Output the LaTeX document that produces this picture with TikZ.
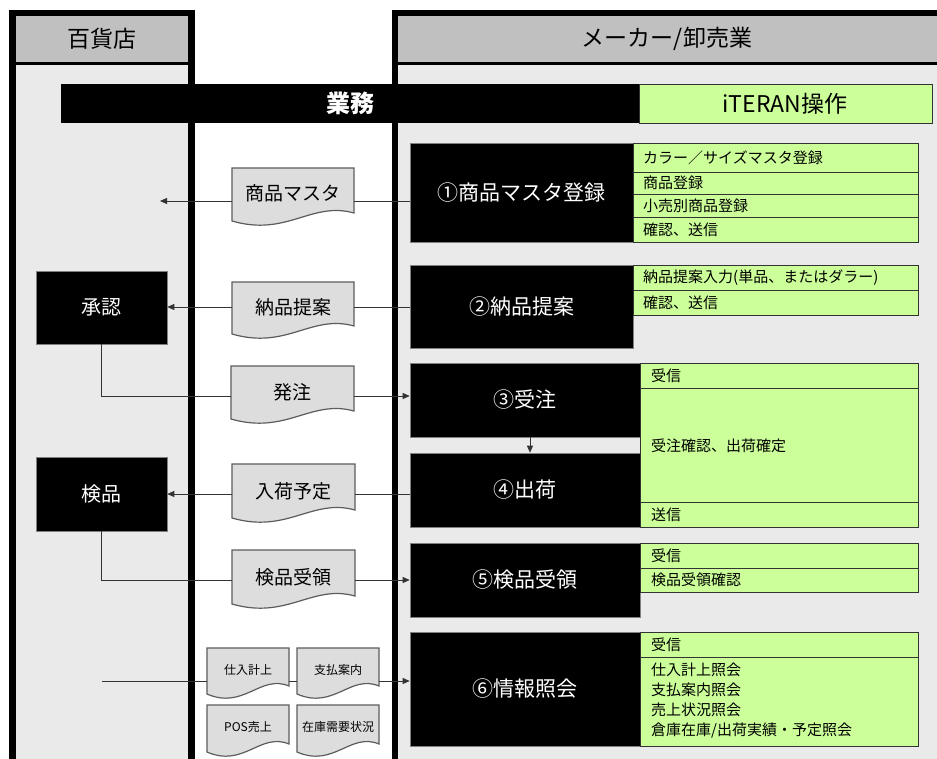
\documentclass[tikz,border=0pt]{standalone}
\usepackage{fontspec}
\setmainfont{Noto Sans CJK JP}
\usetikzlibrary{arrows.meta}
\definecolor{hdr}{HTML}{C0C0C0}
\definecolor{bodyg}{HTML}{EAEAEA}
\definecolor{docg}{HTML}{DDDDDD}
\definecolor{grn}{HTML}{CCFF99}
\definecolor{lin}{HTML}{333333}
\newcommand{\docshape}[4]{%
  \draw[docbg] (#1,#3) -- (#2,#3) -- (#2,{#4-8}) .. controls ({#2-0.35*(#2-#1)},{#4-20}) and ({#1+0.45*(#2-#1)},{#4+16}) .. (#1,#4) -- cycle;}
\tikzset{
  docbg/.style={fill=docg,draw=lin!80,line width=1.2pt},
  doctext/.style={inner sep=0pt,minimum width=122pt,font=\fontsize{19pt}{22pt}\selectfont},
  smalldoc/.style={inner sep=0pt,minimum width=82pt,font=\fontsize{12pt}{14pt}\selectfont},
  proc/.style={fill=black,draw=gray,line width=0.6pt,text=white,inner sep=0pt,font=\fontsize{21pt}{24pt}\selectfont},
  greenrow/.style={fill=grn,draw=lin,line width=0.8pt},
  gtext/.style={anchor=west,inner sep=0pt,font=\fontsize{15pt}{18pt}\selectfont},
  htext/.style={inner sep=0pt,font=\fontsize{23pt}{26pt}\selectfont},
  conn/.style={draw=lin,line width=0.9pt},
  arr/.style={-{Triangle[length=7pt,width=6pt]}}
}
\begin{document}
\begin{tikzpicture}[x=1pt,y=-1pt]
\useasboundingbox (0,0) rectangle (937,758);
% columns
\fill[black] (9,10) rectangle (195,770);
\fill[hdr] (16,16) rectangle (188,62);
\fill[bodyg] (16,65) rectangle (188,770);
\fill[black] (392,10) rectangle (950,770);
\fill[hdr] (398,16) rectangle (950,62);
\fill[bodyg] (398,65) rectangle (950,770);
\node[htext] (h1) at (102,39) {百貨店};
\node[htext] (h2) at (667,39) {メーカー/卸売業};
% banner
\fill[black] (61,84) rectangle (639,123);
\draw[greenrow] (639,84) rectangle (932,123);
\node[htext,text=white,font=\fontsize{24pt}{26pt}\selectfont\bfseries] (bt) at (350,103.5) {業務};
\node[htext] (it) at (785,103.5) {iTERAN操作};
% process boxes
\node[proc,minimum width=223pt,minimum height=99pt] (b1) at (521.5,192.5) {①商品マスタ登録};
\node[proc,minimum width=223pt,minimum height=83pt] (b2) at (521.5,306.5) {②納品提案};
\node[proc,minimum width=230pt,minimum height=74pt] (b3) at (525,400) {③受注};
\node[proc,minimum width=230pt,minimum height=74pt] (b4) at (525,490) {④出荷};
\node[proc,minimum width=230pt,minimum height=74pt] (b5) at (525,580) {⑤検品受領};
\node[proc,minimum width=230pt,minimum height=114pt] (b6) at (525,689) {⑥情報照会};
\node[proc,minimum width=131pt,minimum height=73pt,font=\fontsize{20pt}{24pt}\selectfont] (a1) at (101.5,307.5) {承認};
\node[proc,minimum width=131pt,minimum height=74pt,font=\fontsize{20pt}{24pt}\selectfont] (a2) at (101.5,494) {検品};
% green rows block 1
\draw[greenrow] (633,143) rectangle (918,172);
\draw[greenrow] (633,172) rectangle (918,194);
\draw[greenrow] (633,194) rectangle (918,217);
\draw[greenrow] (633,217) rectangle (918,242);
\node[gtext] (g11) at (643,157.5) {カラー／サイズマスタ登録};
\node[gtext] (g12) at (643,183) {商品登録};
\node[gtext] (g13) at (643,205.5) {小売別商品登録};
\node[gtext] (g14) at (643,229.5) {確認、送信};
% block 2
\draw[greenrow] (633,265) rectangle (918,290);
\draw[greenrow] (633,290) rectangle (918,315);
\node[gtext] (g21) at (643,277.5) {納品提案入力(単品、またはダラー)};
\node[gtext] (g22) at (643,302.5) {確認、送信};
% block 3/4
\draw[greenrow] (640,363) rectangle (918,388);
\draw[greenrow] (640,388) rectangle (918,502);
\draw[greenrow] (640,502) rectangle (918,527);
\node[gtext] (g31) at (651,375.5) {受信};
\node[gtext] (g32) at (651,446) {受注確認、出荷確定};
\node[gtext] (g33) at (651,514.5) {送信};
% block 5
\draw[greenrow] (640,543) rectangle (918,568);
\draw[greenrow] (640,568) rectangle (918,592);
\node[gtext] (g51) at (651,555.5) {受信};
\node[gtext] (g52) at (651,580) {検品受領確認};
% block 6
\draw[greenrow] (640,632) rectangle (918,657);
\draw[greenrow] (640,657) rectangle (918,746);
\node[gtext] (g61) at (651,644.5) {受信};
\node[gtext] (g62) at (651,670) {仕入計上照会};
\node[gtext] (g63) at (651,690) {支払案内照会};
\node[gtext] (g64) at (651,710) {売上状況照会};
\node[gtext] (g65) at (651,731) {倉庫在庫/出荷実績・予定照会};
% documents
\docshape{232}{354}{168}{221}
\node[doctext] (m1) at (293,193) {商品マスタ};
\docshape{232}{354}{282}{334}
\node[doctext] (m2) at (293,307) {納品提案};
\docshape{231}{354}{366}{419}
\node[doctext] (m3) at (292.5,392) {発注};
\docshape{232}{355}{464}{518}
\node[doctext] (m4) at (293.5,491) {入荷予定};
\docshape{232}{355}{550}{604}
\node[doctext] (m5) at (293.5,577) {検品受領};
\docshape{207}{289}{648}{694}
\node[smalldoc] (s1) at (248,670) {仕入計上};
\docshape{297}{379}{648}{694}
\node[smalldoc] (s2) at (338,670) {支払案内};
\docshape{207}{289}{705}{752}
\node[smalldoc] (s3) at (248,727) {POS売上};
\docshape{297}{379}{705}{752}
\node[smalldoc] (s4) at (338,727) {在庫需要状況};
% free ends
\coordinate (c1) at (160,201);
\coordinate (c2) at (102,681);
% connectors
\draw[conn,arr] ([yshift=-8pt]m1.west) -- (c1);
\draw[conn] ([yshift=-8pt]m1.east) -- ([yshift=-8pt]m1.east -| b1.west);
\draw[conn] (m2.east) -- (m2.east -| b2.west);
\draw[conn,arr] (m2.west) -- (m2.west -| a1.east);
\draw[conn] (a1.south) |- ([yshift=-4pt]m3.west);
\draw[conn,arr] ([yshift=-4pt]m3.east) -- ([yshift=-4pt]m3.east -| b3.west);
\draw[conn] ([yshift=-3pt]m4.east) -- ([yshift=-3pt]m4.east -| b4.west);
\draw[conn,arr] ([yshift=-3pt]m4.west) -- ([yshift=-3pt]m4.west -| a2.east);
\draw[conn] (a2.south) |- ([yshift=-3pt]m5.west);
\draw[conn,arr] ([yshift=-3pt]m5.east) -- ([yshift=-3pt]m5.east -| b5.west);
\draw[conn,arr] ([xshift=5pt]b3.south) -- ([xshift=5pt]b4.north);
\draw[conn] (c2) -- ([yshift=-11pt]s1.west);
\draw[conn] ([yshift=-11pt]s1.east) -- ([yshift=-11pt]s2.west);
\draw[conn,arr] ([yshift=-11pt]s2.east) -- ([yshift=-11pt]s2.east -| b6.west);
\end{tikzpicture}
\end{document}
